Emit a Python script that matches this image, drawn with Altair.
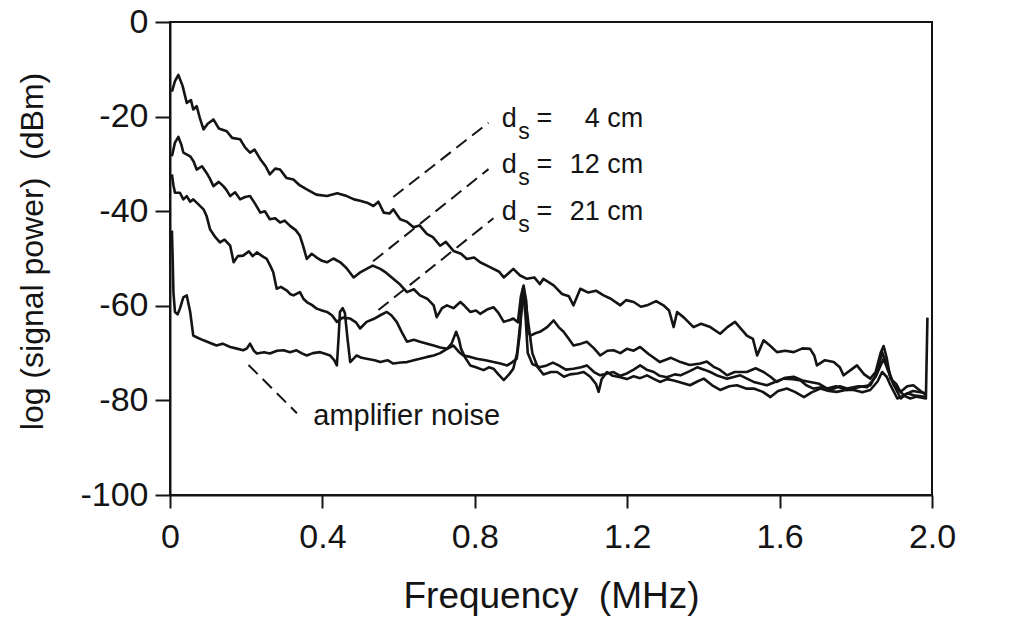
import altair as alt
import pandas as pd

# ---- data (frequency in MHz, power in dBm) ----
f_4cm = [0.005, 0.013, 0.022, 0.033, 0.044, 0.055, 0.061, 0.070, 0.079, 0.088, 0.099, 0.114, 0.128, 0.149, 0.163, 0.184, 0.197, 0.210, 0.222, 0.237, 0.251, 0.262, 0.276, 0.289, 0.306, 0.324, 0.340, 0.359, 0.384, 0.412, 0.439, 0.464, 0.483, 0.499, 0.517, 0.534, 0.547, 0.561, 0.576, 0.586, 0.604, 0.621, 0.639, 0.655, 0.674, 0.690, 0.709, 0.724, 0.744, 0.764, 0.779, 0.798, 0.814, 0.832, 0.849, 0.864, 0.876, 0.890, 0.901, 0.919, 0.937, 0.956, 0.971, 0.980, 1.007, 1.029, 1.047, 1.059, 1.077, 1.098, 1.118, 1.138, 1.157, 1.182, 1.197, 1.217, 1.236, 1.252, 1.276, 1.295, 1.310, 1.322, 1.331, 1.349, 1.374, 1.394, 1.418, 1.444, 1.463, 1.483, 1.500, 1.514, 1.530, 1.541, 1.558, 1.576, 1.593, 1.615, 1.637, 1.660, 1.680, 1.691, 1.698, 1.719, 1.742, 1.758, 1.768, 1.788, 1.803, 1.822, 1.838, 1.852, 1.865, 1.873, 1.881, 1.891, 1.906, 1.917, 1.935, 1.951, 1.970, 1.985]
p_4cm = [-14.7, -12.5, -11.2, -13.5, -17.1, -16.5, -18.5, -17.8, -20.5, -22.7, -21.5, -20.6, -22.5, -23.1, -24.5, -24.8, -26.5, -27.6, -27.0, -29.0, -30.5, -32.2, -31.0, -31.2, -33.0, -33.3, -34.5, -35.4, -36.5, -36.8, -36.2, -36.8, -37.5, -37.8, -38.2, -38.9, -38.0, -40.3, -40.5, -39.6, -41.7, -42.2, -43.4, -43.0, -44.8, -45.5, -47.3, -46.5, -48.4, -49.0, -50.1, -49.8, -50.8, -51.5, -52.2, -52.8, -54.0, -53.0, -52.2, -53.6, -54.3, -54.0, -55.4, -54.3, -55.7, -57.5, -58.0, -59.9, -56.4, -57.2, -56.8, -57.8, -58.5, -59.9, -58.8, -59.2, -60.2, -59.9, -59.0, -59.9, -61.0, -64.5, -61.3, -62.5, -64.5, -63.8, -64.5, -65.9, -64.5, -63.4, -65.0, -66.3, -67.0, -70.5, -67.3, -68.5, -69.8, -69.5, -69.8, -69.0, -69.1, -70.5, -72.6, -71.5, -71.9, -73.0, -74.7, -73.5, -72.6, -74.5, -75.4, -74.0, -70.0, -68.5, -71.0, -75.4, -76.5, -78.2, -77.0, -76.8, -78.0, -78.9]

f_12cm = [0.005, 0.013, 0.022, 0.030, 0.035, 0.053, 0.062, 0.070, 0.084, 0.096, 0.104, 0.114, 0.128, 0.140, 0.148, 0.158, 0.171, 0.184, 0.197, 0.210, 0.224, 0.237, 0.249, 0.262, 0.276, 0.289, 0.301, 0.315, 0.330, 0.341, 0.350, 0.359, 0.372, 0.385, 0.399, 0.412, 0.429, 0.447, 0.463, 0.482, 0.498, 0.516, 0.532, 0.552, 0.567, 0.586, 0.604, 0.622, 0.640, 0.656, 0.675, 0.692, 0.700, 0.714, 0.727, 0.744, 0.762, 0.773, 0.788, 0.803, 0.814, 0.832, 0.849, 0.862, 0.876, 0.892, 0.901, 0.913, 0.921, 0.928, 0.935, 0.939, 0.946, 0.959, 0.971, 0.990, 1.007, 1.020, 1.033, 1.047, 1.059, 1.079, 1.094, 1.113, 1.129, 1.148, 1.164, 1.182, 1.199, 1.217, 1.234, 1.256, 1.286, 1.315, 1.340, 1.364, 1.392, 1.409, 1.427, 1.443, 1.462, 1.482, 1.514, 1.537, 1.558, 1.576, 1.593, 1.615, 1.637, 1.660, 1.680, 1.704, 1.725, 1.748, 1.777, 1.807, 1.838, 1.857, 1.869, 1.881, 1.900, 1.926, 1.950, 1.985]
p_12cm = [-28.4, -25.5, -24.3, -26.0, -27.6, -28.4, -29.5, -31.2, -30.5, -31.9, -33.0, -34.7, -33.8, -34.7, -35.5, -36.8, -36.0, -37.5, -37.0, -36.8, -38.5, -40.3, -40.0, -41.7, -41.5, -42.4, -42.0, -43.1, -44.0, -45.2, -47.5, -50.1, -49.0, -49.8, -50.5, -50.8, -50.0, -50.8, -52.0, -54.0, -53.0, -52.2, -51.5, -52.2, -53.0, -54.3, -55.5, -57.1, -56.5, -57.8, -58.5, -59.9, -62.4, -60.5, -59.9, -60.5, -59.2, -60.0, -61.3, -61.0, -61.7, -60.8, -60.3, -61.5, -63.4, -63.0, -62.7, -63.5, -58.0, -55.7, -59.0, -65.5, -66.3, -65.8, -65.5, -64.5, -63.1, -64.5, -65.5, -67.0, -68.4, -68.0, -67.6, -69.0, -70.5, -69.5, -69.4, -70.0, -69.1, -69.5, -68.7, -70.2, -71.9, -71.0, -71.9, -72.5, -72.2, -71.8, -72.9, -73.5, -74.7, -74.0, -74.0, -73.2, -74.0, -75.0, -76.1, -75.2, -75.0, -75.8, -76.1, -76.5, -77.5, -77.0, -77.8, -77.2, -76.8, -74.0, -69.8, -72.5, -76.8, -78.9, -78.0, -78.5]

f_21cm = [0.005, 0.009, 0.013, 0.026, 0.035, 0.044, 0.053, 0.061, 0.074, 0.088, 0.096, 0.105, 0.119, 0.131, 0.143, 0.158, 0.167, 0.178, 0.192, 0.207, 0.217, 0.228, 0.242, 0.254, 0.263, 0.271, 0.280, 0.291, 0.307, 0.315, 0.324, 0.341, 0.350, 0.359, 0.372, 0.385, 0.399, 0.412, 0.425, 0.438, 0.453, 0.473, 0.488, 0.499, 0.516, 0.534, 0.552, 0.569, 0.581, 0.595, 0.608, 0.622, 0.640, 0.656, 0.675, 0.692, 0.709, 0.727, 0.744, 0.759, 0.770, 0.788, 0.805, 0.828, 0.849, 0.867, 0.885, 0.897, 0.910, 0.918, 0.926, 0.933, 0.939, 0.951, 0.970, 0.989, 1.005, 1.020, 1.039, 1.059, 1.079, 1.094, 1.113, 1.129, 1.148, 1.164, 1.182, 1.199, 1.217, 1.234, 1.251, 1.270, 1.285, 1.304, 1.325, 1.340, 1.364, 1.384, 1.402, 1.418, 1.438, 1.462, 1.482, 1.497, 1.517, 1.532, 1.551, 1.567, 1.591, 1.610, 1.635, 1.655, 1.670, 1.689, 1.714, 1.733, 1.758, 1.777, 1.807, 1.830, 1.852, 1.873, 1.886, 1.900, 1.918, 1.935, 1.952, 1.985]
p_21cm = [-32.2, -34.5, -36.1, -36.1, -37.5, -36.8, -38.0, -37.5, -38.5, -39.6, -41.0, -43.8, -45.5, -46.6, -46.0, -47.3, -50.8, -49.5, -49.4, -48.5, -49.5, -48.7, -49.5, -50.1, -51.5, -52.9, -56.4, -56.0, -56.8, -57.5, -57.8, -57.1, -58.5, -59.2, -59.8, -60.6, -61.0, -61.3, -62.0, -63.4, -62.5, -62.7, -63.5, -64.8, -63.4, -62.8, -62.0, -61.3, -62.0, -63.4, -65.5, -67.6, -67.2, -67.6, -68.0, -68.4, -68.8, -69.1, -68.4, -69.8, -70.5, -70.8, -71.2, -71.5, -71.9, -72.2, -72.6, -72.0, -71.2, -66.0, -56.5, -62.0, -70.0, -72.3, -73.0, -72.6, -72.0, -72.6, -73.5, -73.3, -73.0, -72.6, -74.0, -74.7, -74.3, -74.0, -74.8, -74.3, -73.5, -72.6, -73.5, -74.0, -74.8, -75.1, -74.5, -74.7, -73.8, -73.0, -73.5, -74.0, -74.8, -75.4, -75.0, -74.7, -75.5, -76.1, -76.5, -76.8, -76.0, -75.4, -75.5, -75.8, -76.8, -77.5, -77.2, -77.8, -77.0, -77.5, -77.0, -77.2, -75.0, -71.2, -74.0, -76.8, -79.6, -78.5, -78.9, -79.3]

f_noise = [0.005, 0.007, 0.009, 0.013, 0.020, 0.026, 0.035, 0.044, 0.053, 0.061, 0.074, 0.088, 0.104, 0.122, 0.138, 0.158, 0.173, 0.192, 0.202, 0.210, 0.220, 0.228, 0.247, 0.262, 0.281, 0.298, 0.315, 0.332, 0.345, 0.359, 0.375, 0.394, 0.409, 0.420, 0.431, 0.438, 0.443, 0.446, 0.453, 0.459, 0.466, 0.473, 0.490, 0.503, 0.516, 0.537, 0.552, 0.571, 0.586, 0.606, 0.622, 0.640, 0.656, 0.675, 0.692, 0.709, 0.727, 0.739, 0.751, 0.758, 0.764, 0.775, 0.788, 0.803, 0.823, 0.837, 0.849, 0.862, 0.876, 0.890, 0.901, 0.911, 0.919, 0.928, 0.935, 0.941, 0.951, 0.965, 0.980, 1.000, 1.016, 1.034, 1.050, 1.069, 1.086, 1.103, 1.118, 1.125, 1.133, 1.147, 1.162, 1.182, 1.199, 1.217, 1.234, 1.252, 1.271, 1.286, 1.305, 1.322, 1.345, 1.365, 1.384, 1.401, 1.423, 1.444, 1.468, 1.488, 1.512, 1.532, 1.556, 1.576, 1.596, 1.619, 1.640, 1.664, 1.684, 1.707, 1.729, 1.750, 1.773, 1.795, 1.817, 1.838, 1.857, 1.869, 1.881, 1.891, 1.909, 1.926, 1.943, 1.960, 1.984, 1.988]
p_noise = [-44.1, -50.0, -57.1, -61.3, -61.8, -60.6, -58.2, -57.8, -61.3, -66.3, -66.8, -67.3, -67.8, -68.4, -68.0, -68.7, -69.0, -69.4, -69.0, -68.0, -69.5, -70.1, -69.8, -70.1, -69.5, -69.4, -69.8, -69.4, -70.0, -70.5, -70.0, -69.8, -70.2, -70.5, -71.5, -72.6, -66.0, -61.3, -60.5, -61.5, -67.0, -71.9, -70.5, -71.0, -71.2, -71.5, -71.9, -71.5, -72.2, -72.0, -71.9, -71.5, -71.2, -70.8, -70.5, -70.0, -69.1, -68.0, -65.5, -67.0, -69.1, -71.0, -72.6, -73.0, -73.6, -73.0, -73.3, -74.5, -75.7, -74.5, -73.3, -70.0, -64.0, -56.5, -60.0, -64.0, -70.0, -73.0, -74.5, -74.0, -74.0, -75.0, -74.5, -74.3, -74.0, -75.0, -76.5, -78.2, -75.5, -74.0, -74.8, -75.1, -75.5, -74.9, -75.3, -74.7, -75.5, -76.1, -75.5, -75.8, -76.3, -76.8, -76.0, -75.4, -76.8, -77.8, -77.0, -76.8, -77.5, -77.5, -78.2, -79.3, -78.0, -77.5, -78.2, -79.3, -78.3, -77.5, -78.0, -78.2, -77.8, -77.8, -78.3, -77.8, -76.0, -74.0, -75.0, -76.8, -79.6, -79.0, -79.6, -79.2, -79.6, -62.5]

# annotation texts and leader lines (data units)
label_main = ["d", "d", "d"]
label_sub = ["s", "s", "s"]
label_eq = ["=", "=", "="]
label_val = ["4 cm", "12 cm", "21 cm"]
label_y = [-22.3, -32.0, -41.9]
label_sub_y = [-24.7, -34.4, -44.3]
lead_x1 = [0.586, 0.533, 0.547, 0.206]
lead_y1 = [-37.0, -50.6, -60.9, -72.5]
lead_x2 = [0.836, 0.836, 0.849, 0.333]
lead_y2 = [-21.3, -31.1, -41.5, -82.7]
noise_label = "amplifier noise"

x_ticks = [0, 0.4, 0.8, 1.2, 1.6, 2.0]
y_ticks = [0, -20, -40, -60, -80, -100]

FONT = "Liberation Sans"
INK = "#141414"

frames = []
for name, fx, py in [("4cm", f_4cm, p_4cm), ("12cm", f_12cm, p_12cm),
                     ("21cm", f_21cm, p_21cm), ("noise", f_noise, p_noise)]:
    frames.append(pd.DataFrame({"f": fx, "p": py, "series": name, "order": range(len(fx))}))
curves = pd.concat(frames, ignore_index=True)

xscale = alt.Scale(domain=[0, 2.0], nice=False, zero=False)
yscale = alt.Scale(domain=[-100, 0], nice=False, zero=False)

xaxis = alt.Axis(values=x_ticks, labelExpr="datum.value == 0 ? '0' : format(datum.value, '.1f')",
                 title="Frequency\u00a0\u00a0(MHz)", grid=False, domainColor=INK, domainWidth=2,
                 tickColor=INK, tickWidth=2, tickSize=13, labelPadding=12, labelFontSize=34,
                 labelFont=FONT, labelColor=INK, titleFont=FONT, titleFontSize=37,
                 titleFontWeight="normal", titleColor=INK, titleX=381, titleY=112,
                 titleBaseline="alphabetic", titleAlign="center", labelFlush=False)
yaxis = alt.Axis(values=y_ticks, labelExpr="datum.value + ''",
                 title="log (signal power)\u00a0\u00a0(dBm)", grid=False,
                 domainColor=INK, domainWidth=2, tickColor=INK, tickWidth=2, tickSize=15,
                 labelPadding=7, labelFontSize=34, labelFont=FONT, labelColor=INK,
                 titleFont=FONT, titleFontSize=32, titleFontWeight="normal", titleColor=INK,
                 titleAngle=-90, titleX=-138, titleY=229, titleAlign="center",
                 titleBaseline="middle", labelFlush=False)

lines = alt.Chart(curves).mark_line(color=INK, strokeWidth=2.6, strokeJoin="round").encode(
    x=alt.X("f:Q", scale=xscale, axis=xaxis),
    y=alt.Y("p:Q", scale=yscale, axis=yaxis),
    detail="series:N",
    order="order:Q",
)

leads = alt.Chart(pd.DataFrame({"x1": lead_x1, "y1": lead_y1, "x2": lead_x2, "y2": lead_y2})).mark_rule(
    color=INK, strokeWidth=2, strokeDash=[13, 7]).encode(
    x=alt.X("x1:Q", scale=xscale), y=alt.Y("y1:Q", scale=yscale),
    x2="x2:Q", y2="y2:Q")

lab_df = pd.DataFrame({"t": label_main, "y": label_y, "s": label_sub, "ys": label_sub_y,
                       "e": label_eq, "v": label_val})
txt_d = alt.Chart(lab_df).mark_text(font=FONT, fontSize=27, color=INK, align="left",
                                    baseline="alphabetic").encode(
    x=alt.datum(0.871, scale=xscale), y=alt.Y("y:Q", scale=yscale), text="t:N")
txt_s = alt.Chart(lab_df).mark_text(font=FONT, fontSize=23, color=INK, align="left",
                                    baseline="alphabetic").encode(
    x=alt.datum(0.914, scale=xscale), y=alt.Y("ys:Q", scale=yscale), text="s:N")
txt_e = alt.Chart(lab_df).mark_text(font=FONT, fontSize=27, color=INK, align="left",
                                    baseline="alphabetic").encode(
    x=alt.datum(0.962, scale=xscale), y=alt.Y("y:Q", scale=yscale), text="e:N")
txt_v = alt.Chart(lab_df).mark_text(font=FONT, fontSize=27, color=INK, align="right",
                                    baseline="alphabetic").encode(
    x=alt.datum(1.242, scale=xscale), y=alt.Y("y:Q", scale=yscale), text="v:N")
txt_n = alt.Chart(pd.DataFrame({"t": [noise_label]})).mark_text(
    font=FONT, fontSize=29, color=INK, align="left", baseline="alphabetic").encode(
    x=alt.datum(0.376, scale=xscale), y=alt.datum(-85.2, scale=yscale), text="t:N")

chart = alt.layer(lines, leads, txt_d, txt_s, txt_e, txt_v, txt_n).properties(
    width=762, height=473,
    autosize=alt.AutoSizeParams(type="none"),
    padding={"left": 170, "top": 22, "right": 95, "bottom": 126},
    background="white",
).configure_view(stroke=INK, strokeWidth=2)

chart.save("out.html", embed_options={"renderer": "svg", "actions": False})
